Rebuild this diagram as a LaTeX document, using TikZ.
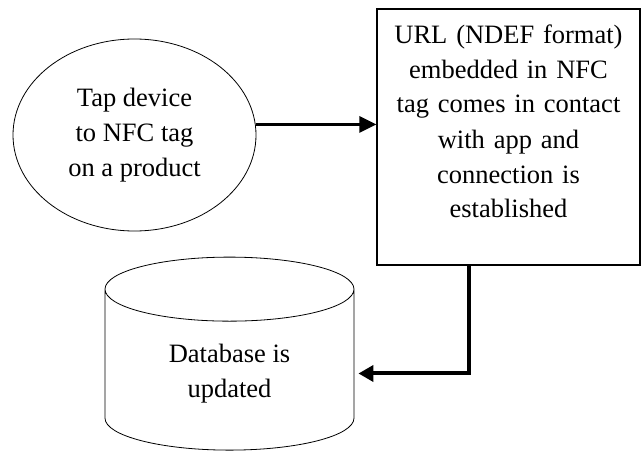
\documentclass[tikz,border=0pt]{standalone}
\usepackage{fontspec}
\setmainfont{Liberation Serif}
\usepackage{tikz}
\usetikzlibrary{shapes.geometric,arrows.meta}

\begin{document}
\begin{tikzpicture}[x=1pt,y=-1pt,
		every node/.style={font=\fontsize{26.5}{35}\selectfont},
		stepnode/.style={
			% The shape:
			ellipse,minimum width=243pt,minimum height=192pt,
			% The rest
			draw,line width=0.8pt,align=center},
		actionbox/.style={
			rectangle,minimum width=263pt,
			draw,line width=1.2pt,text width=245pt,align=center,
			inner ysep=16pt,text height=18pt,text depth=206pt},
		store/.style={
			cylinder,shape border rotate=90,aspect=0.5,
			minimum width=249pt,minimum height=193pt,
			draw,line width=0.8pt,align=center},
		flow/.style={line width=3pt,-{Triangle[length=17pt,width=16pt]}},
		flowback/.style={line width=4pt,-{Triangle[length=15pt,width=16pt]}}]
		\useasboundingbox (0,0) rectangle (643,455);

		\node (tap)	[stepnode] at (134.5,135)	{Tap device\\to NFC tag\\on a product};
		\node (url)	[actionbox] at (508.5,137)	{URL (NDEF format)\\embedded in NFC\\tag comes in contact\\with app and\\connection is\\established};
		\node (db)	[store] at (229.5,373.5)	{Database is\\updated};

		\draw[flow]	(tap.5) -- (tap.5 -| url.west);
		\draw[flowback]	(url.253) |- ([xshift=4pt]db.east);
	\end{tikzpicture}
\end{document}
